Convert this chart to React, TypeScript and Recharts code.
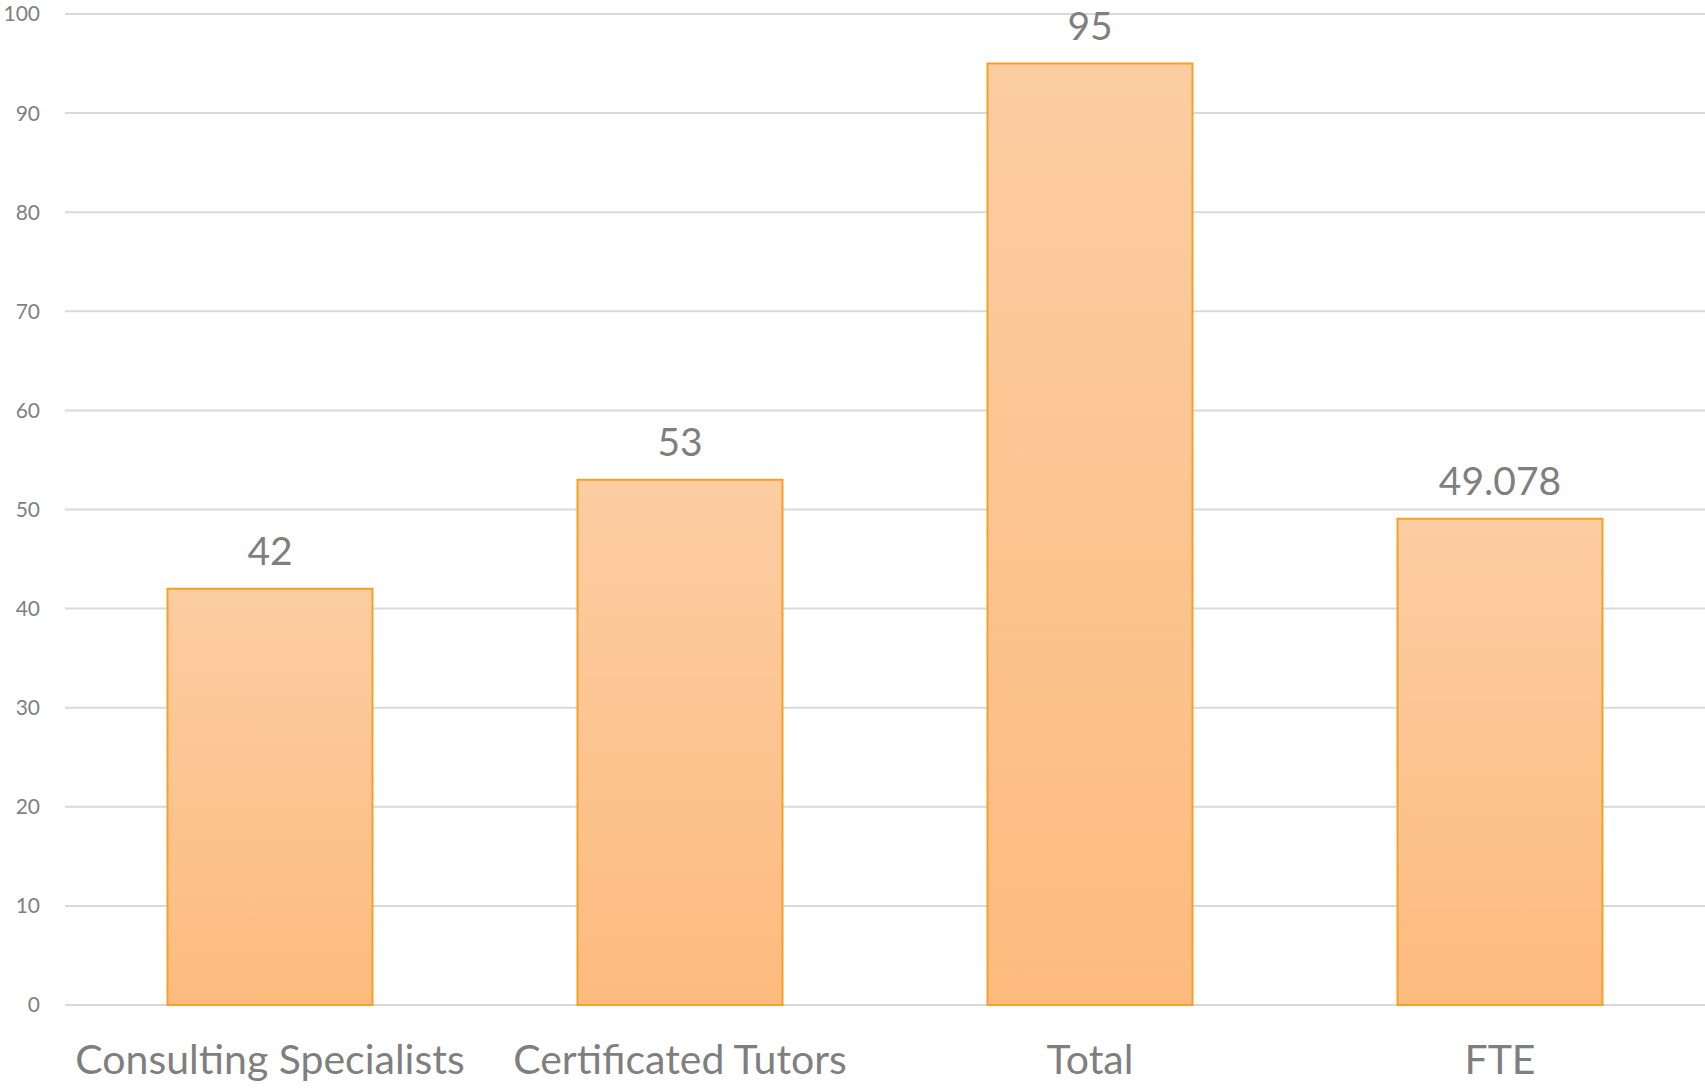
import { BarChart, Bar, XAxis, YAxis, CartesianGrid, LabelList } from 'recharts';

const categories = ['Consulting Specialists', 'Certificated Tutors', 'Total', 'FTE'];
const values = [42, 53, 95, 49.078];
const yTicks = [0, 10, 20, 30, 40, 50, 60, 70, 80, 90, 100];

const data = categories.map((name, i) => ({ name, value: values[i] }));

const textColor = '#7f7f7f';
const font = 'Lato, "Open Sans", sans-serif';

export default function App() {
  return (
    <div style={{ position: 'absolute', left: 0, top: 0, background: '#fff' }}>
      <BarChart
        width={1705}
        height={1090}
        data={data}
        margin={{ top: 14, right: 0, bottom: 0, left: 0 }}
        barCategoryGap="25%"
      >
        <defs>
          <linearGradient id="barFill" x1="0" y1="0" x2="0" y2="1">
            <stop offset="0%" stopColor="#fccda2" />
            <stop offset="100%" stopColor="#fdbb7e" />
          </linearGradient>
        </defs>
        <CartesianGrid vertical={false} stroke="#d9d9d9" strokeWidth={2} />
        <XAxis
          dataKey="name"
          axisLine={false}
          tickLine={false}
          tickSize={0}
          tickMargin={40}
          height={85}
          interval={0}
          tick={{ fill: textColor, fontSize: 41, fontFamily: font }}
        />
        <YAxis
          domain={[0, 100]}
          ticks={yTicks}
          axisLine={false}
          tickLine={false}
          tickSize={0}
          tickMargin={25}
          width={65}
          tick={{ fill: textColor, fontSize: 21, fontFamily: font }}
        />
        <Bar
          dataKey="value"
          fill="url(#barFill)"
          stroke="#f4a126"
          strokeWidth={2}
          isAnimationActive={false}
        >
          <LabelList
            dataKey="value"
            position="top"
            offset={24}
            fill={textColor}
            fontSize={39}
            fontFamily={font}
          />
        </Bar>
      </BarChart>
    </div>
  );
}
